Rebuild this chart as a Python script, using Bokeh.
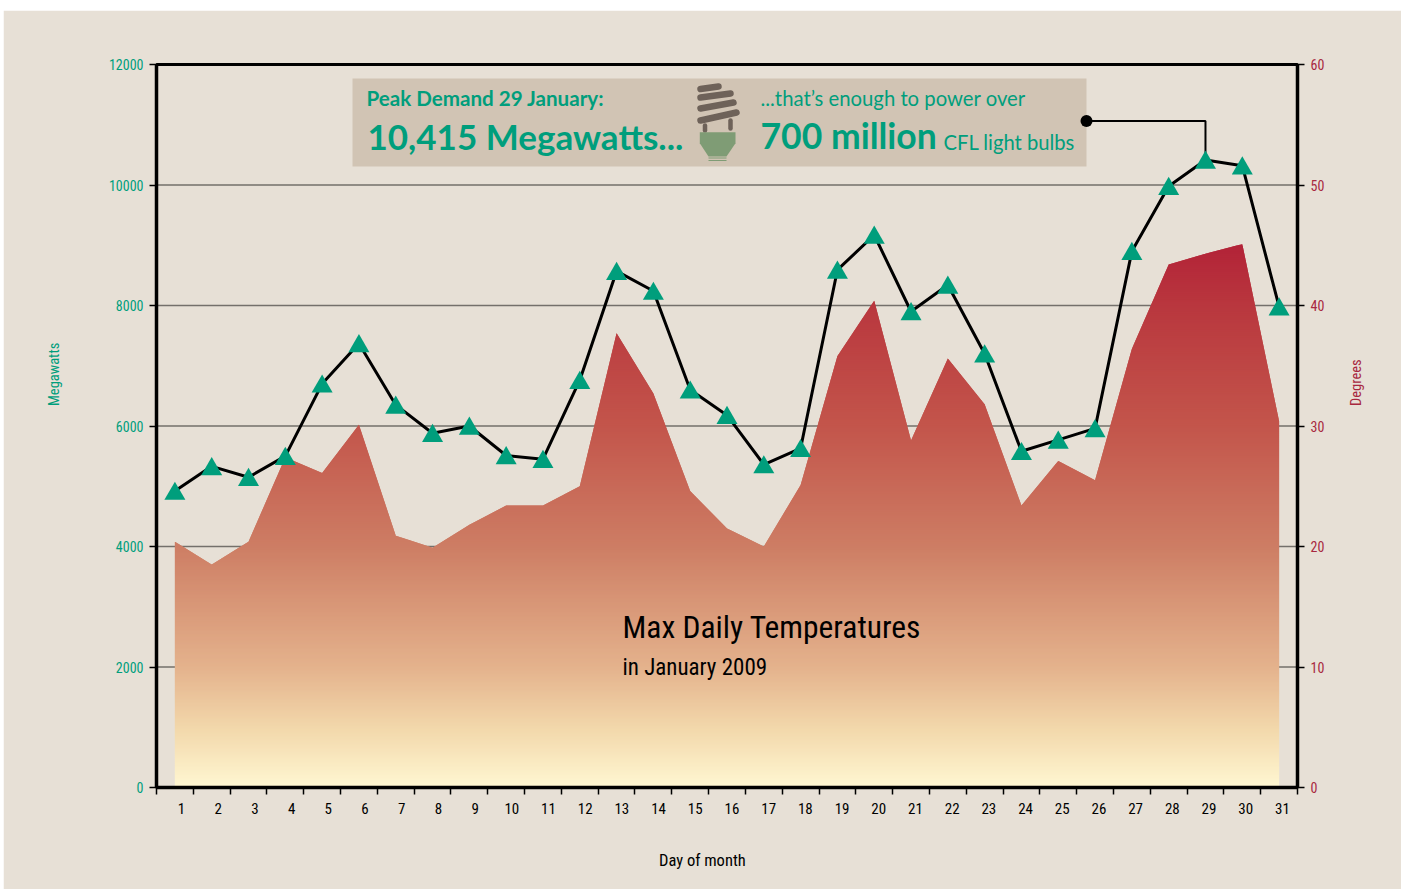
import numpy as np
from bokeh.plotting import figure
from bokeh.models import LinearAxis, Range1d, FixedTicker, Label
from bokeh.embed import file_html
from bokeh.resources import INLINE

DAYS = list(range(1, 32))
MEGAWATTS = [4920, 5330, 5150, 5500, 6700, 7370, 6350, 5880, 6000, 5510, 5450, 6760, 8570, 8240, 6600, 6180,
             5360, 5630, 8590, 9170, 7900, 8340, 7200, 5580, 5770, 5960, 8900, 9980, 10415, 10320, 7980]
DEGREES = [20.4, 18.5, 20.4, 27.4, 26.1, 30.1, 20.9, 19.9, 21.8, 23.4, 23.4, 25.0, 37.7, 32.7, 24.6, 21.5,
           20.0, 25.1, 35.8, 40.4, 28.8, 35.6, 31.8, 23.4, 27.1, 25.5, 36.4, 43.4, 44.3, 45.1, 30.4]
MW_TICKS = [0, 2000, 4000, 6000, 8000, 10000, 12000]
DEG_TICKS = [0, 10, 20, 30, 40, 50, 60]

BG = "#E7E0D6"
BOX = "#D1C4B4"
TEAL = "#009E7C"
CRIMSON = "#A8283F"
NARROW = "Roboto Condensed"
SANS = "Lato"
GRAD_DEG = [0, 5, 10, 20, 30, 40, 45.5]
GRAD_R = [255, 242, 228, 205, 195, 185, 178]
GRAD_G = [247, 215, 178, 125, 85, 55, 33]
GRAD_B = [210, 170, 140, 100, 75, 62, 55]

PAGE_L, PAGE_T, PAGE_R, PAGE_B = 3, 10, 1401, 889   # panel edges in page pixels
FL, FR, FT, FB = 156, 1297, 64, 787                 # frame edges in page pixels
def X(px): return 0.5 + (px - FL) / (FR - FL) * 31
def Y(py): return (FB - py) / (FB - FT) * 12000

p = figure(width=PAGE_R - PAGE_L, height=PAGE_B - PAGE_T, output_backend="svg", toolbar_location=None,
           x_range=(0.5, 31.5), y_range=(0, 12000), x_axis_location=None, y_axis_location=None,
           min_border_left=FL - PAGE_L, min_border_right=PAGE_R - FR, min_border_top=FT - PAGE_T,
           min_border_bottom=PAGE_B - FB, background_fill_color=BG, border_fill_color=BG,
           outline_line_color="black", outline_line_width=3)
p.margin = (PAGE_T, 0, 0, PAGE_L)
p.extra_y_ranges = {"deg": Range1d(0, 60)}
p.xgrid.visible = False
p.ygrid.visible = False


def style(ax, color, size):
    ax.axis_line_color = "black"
    ax.axis_line_width = 3.5
    ax.major_tick_line_color = "black"
    ax.major_tick_line_width = 1.5
    ax.major_tick_in = 0
    ax.minor_tick_in = 0
    ax.major_label_text_color = color
    ax.major_label_text_font = NARROW
    ax.major_label_text_font_size = size


def axis_title(ax, text, color, size, standoff):
    ax.axis_label = text
    ax.axis_label_text_color = color
    ax.axis_label_text_font = NARROW
    ax.axis_label_text_font_size = size
    ax.axis_label_text_font_style = "normal"
    ax.axis_label_standoff = standoff


NB = "\u00a0"   # padding that moves a title off the centre of its axis
left = LinearAxis(ticker=FixedTicker(ticks=MW_TICKS), major_tick_out=7, minor_tick_out=0, major_label_standoff=6)
style(left, TEAL, "14px")
left.major_label_overrides = {t: str(t) for t in MW_TICKS}
axis_title(left, NB * 31 + "Megawatts", TEAL, "14.5px", 43)
p.add_layout(left, "left")

right = LinearAxis(y_range_name="deg", ticker=FixedTicker(ticks=DEG_TICKS), major_tick_out=7, minor_tick_out=0,
                   major_label_standoff=6)
style(right, CRIMSON, "14px")
axis_title(right, NB * 6 + "Degrees", CRIMSON, "14.5px", 29)
if "axis_label_orientation" in right.properties():
    right.axis_label_orientation = np.pi / 2
p.add_layout(right, "right")

bounds = [0.5 + i for i in range(32)]
label_pos = [1.18 + (d - 1) * 0.997 for d in DAYS]
below = LinearAxis(ticker=FixedTicker(ticks=label_pos, minor_ticks=bounds), major_tick_out=0, minor_tick_out=7,
                   major_label_standoff=8)
style(below, "black", "15px")
below.minor_tick_line_color = "black"
below.minor_tick_line_width = 1.5
below.major_label_overrides = {lp: str(d) for lp, d in zip(label_pos, DAYS)}
axis_title(below, "Day of month" + NB * 13, "black", "16.5px", 34)
p.add_layout(below, "below")

# dotted gridlines
for t in MW_TICKS[1:]:
    p.line([0.5, 31.5], [t, t], line_color="black", line_width=1.5, line_dash="1 1")

# gradient area: stacked horizontal bands, each clipped to the temperature curve
d = np.array(DAYS, float)
T = np.array(DEGREES, float)
band = 60 / (FB - FT) * 2
tops = np.arange(int(np.ceil(T.max() / band)), 0, -1) * band


def with_crossings(level):
    xs = list(d)
    for i in range(len(d) - 1):
        a, b = T[i], T[i + 1]
        if (a - level) * (b - level) < 0:
            xs.append(d[i] + (level - a) / (b - a))
    return xs


for hi in tops:
    lo = max(hi - 2 * band, 0)
    xs = np.array(sorted(set(with_crossings(hi) + with_crossings(lo))))
    curve = np.interp(xs, d, T)
    mid = hi - band / 2
    col = tuple(int(round(np.interp(mid, GRAD_DEG, c))) for c in (GRAD_R, GRAD_G, GRAD_B))
    p.varea(xs, np.minimum(curve, lo), np.minimum(curve, hi), y_range_name="deg", fill_color="#%02x%02x%02x" % col)

# callout box
p.quad(left=[X(352)], right=[X(1086)], top=[Y(78)], bottom=[Y(166)], fill_color=BOX, line_color=None)

# bulb
coils_x = [[X(700), X(718)], [X(700), X(730)], [X(700), X(733)], [X(700), X(736)]]
coils_y = [[Y(88.5), Y(86)], [Y(97), Y(93)], [Y(108), Y(102)], [Y(120), Y(112)]]
p.multi_line(coils_x, coils_y, line_color="#6E6259", line_width=6.5, line_cap="round")
p.multi_line([[X(704.5), X(704.5)], [X(730), X(730)]], [[Y(125), Y(130)], [Y(120), Y(128)]],
             line_color="#6E6259", line_width=4.5, line_cap="round")
p.patch([X(699.3), X(735), X(735), X(726), X(708), X(699.3)],
        [Y(131.7), Y(131.7), Y(142.7), Y(156), Y(156), Y(142.7)], fill_color="#7F9C75", line_color=None)
p.multi_line([[X(708), X(726)], [X(708), X(726)]], [[Y(157.5), Y(157.5)], [Y(160), Y(160)]],
             line_color="#7F9C75", line_width=1)

# demand line and markers
p.line(DAYS, MEGAWATTS, line_color="black", line_width=3)
p.line([X(1086), 29, 29], [Y(120.5), Y(120.5), 10415], line_color="black", line_width=2)
p.scatter([X(1086)], [Y(120.5)], size=12, marker="circle", fill_color="black", line_color=None)
p.scatter(DAYS, np.array(MEGAWATTS) - 45, size=21, marker="triangle", fill_color=TEAL, line_color=None)


def lab(text, px, py, size, color="black", font=NARROW, style="normal"):
    # the baseline of a Label sits about 0.42 em lower than asked, hence the correction
    p.add_layout(Label(x=X(px), y=Y(py - 0.42 * size), text=text, text_font_size=f"{size}px", text_color=color,
                       text_font=font, text_font_style=style, text_align="left", text_baseline="alphabetic"))


lab("Peak Demand 29 January:", 366, 106, 20.6, TEAL, SANS, "bold")
lab("10,415 Megawatts...", 367, 150, 35, TEAL, SANS, "bold")
lab("...that\u2019s enough to power over", 760, 106, 20.3, TEAL, SANS)
lab("700 million", 760, 150, 35.5, TEAL, SANS, "bold")
lab("CFL light bulbs", 943, 150, 20.2, TEAL, SANS)
lab("Max Daily Temperatures", 622, 640, 31.5)
lab("in January 2009", 622, 677, 23)

open("out.html", "w").write(file_html(p, INLINE))
